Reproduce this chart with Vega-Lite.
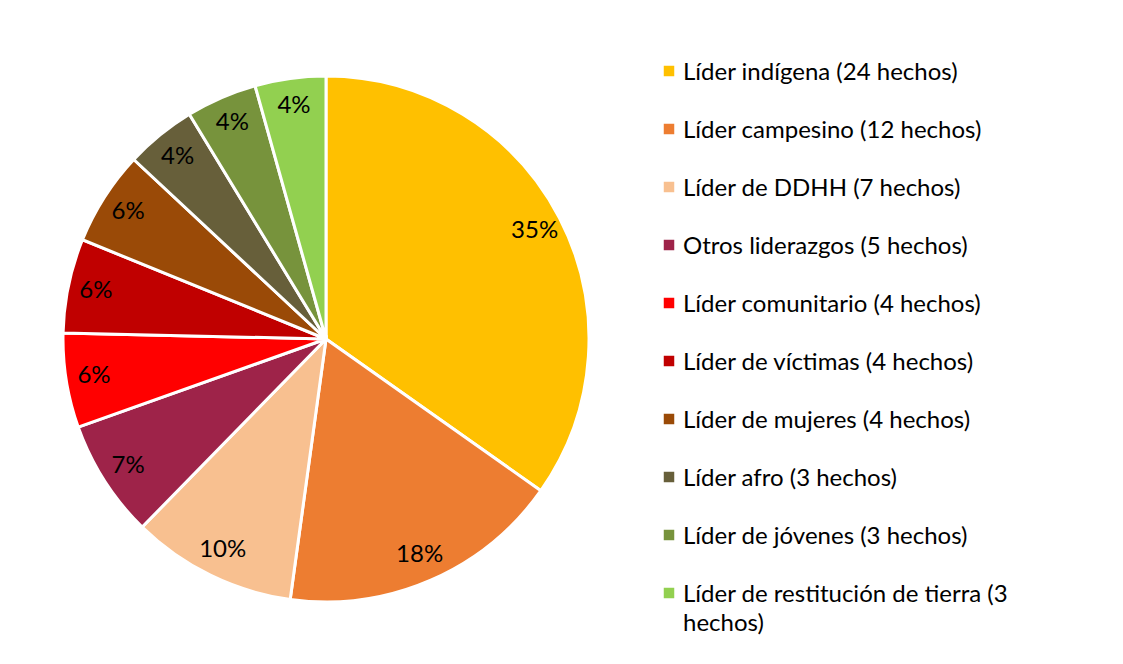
{
  "$schema": "https://vega.github.io/schema/vega-lite/v6.json",
  "width": 634,
  "height": 656,
  "autosize": "none",
  "padding": {"left": 9, "top": 11, "right": 480, "bottom": 0},
  "background": "white",
  "config": {
    "view": {"stroke": null},
    "font": "Lato",
    "style": {"guide-label": {"dy": 9, "lineHeight": 29}}
  },
  "data": {
    "values": [
      {"orden": 1, "categoria": "Líder indígena (24 hechos)", "hechos": 24, "pct": "35%"},
      {"orden": 2, "categoria": "Líder campesino (12 hechos)", "hechos": 12, "pct": "18%"},
      {"orden": 3, "categoria": "Líder de DDHH (7 hechos)", "hechos": 7, "pct": "10%"},
      {"orden": 4, "categoria": "Otros liderazgos (5 hechos)", "hechos": 5, "pct": "7%"},
      {"orden": 5, "categoria": "Líder comunitario (4 hechos)", "hechos": 4, "pct": "6%"},
      {"orden": 6, "categoria": "Líder de víctimas (4 hechos)", "hechos": 4, "pct": "6%"},
      {"orden": 7, "categoria": "Líder de mujeres (4 hechos)", "hechos": 4, "pct": "6%"},
      {"orden": 8, "categoria": "Líder afro (3 hechos)", "hechos": 3, "pct": "4%"},
      {"orden": 9, "categoria": "Líder de jóvenes (3 hechos)", "hechos": 3, "pct": "4%"},
      {"orden": 10, "categoria": "Líder de restitución de tierra (3 hechos)", "hechos": 3, "pct": "4%"}
    ]
  },
  "encoding": {
    "theta": {"field": "hechos", "type": "quantitative", "stack": true},
    "order": {"field": "orden", "type": "quantitative"}
  },
  "layer": [
    {
      "mark": {"type": "arc", "radius": 263, "stroke": "white", "strokeWidth": 3},
      "encoding": {
        "color": {
          "field": "categoria",
          "type": "nominal",
          "scale": {
            "domain": [
              "Líder indígena (24 hechos)",
              "Líder campesino (12 hechos)",
              "Líder de DDHH (7 hechos)",
              "Otros liderazgos (5 hechos)",
              "Líder comunitario (4 hechos)",
              "Líder de víctimas (4 hechos)",
              "Líder de mujeres (4 hechos)",
              "Líder afro (3 hechos)",
              "Líder de jóvenes (3 hechos)",
              "Líder de restitución de tierra (3 hechos)"
            ],
            "range": ["#FFC000", "#ED7D31", "#F8C090", "#9E2349", "#FF0000", "#C00000", "#9A4A07", "#675F3A", "#77933C", "#92D050"]
          },
          "legend": {
            "orient": "none",
            "legendX": 648,
            "legendY": 48,
            "title": null,
            "padding": 0,
            "symbolType": "square",
            "symbolSize": 110,
            "symbolStrokeWidth": 0,
            "labelFont": "Lato",
            "labelFontSize": 24,
            "labelColor": "black",
            "labelOffset": 2,
            "labelLimit": 600,
            "rowPadding": 32,
            "labelBaseline": "alphabetic",
            "labelExpr": "datum.label == 'Líder de restitución de tierra (3 hechos)' ? ['Líder de restitución de tierra (3', 'hechos)'] : datum.label"
          }
        }
      }
    },
    {
      "mark": {"type": "text", "radius": 235, "fontSize": 24, "font": "Lato", "color": "black"},
      "encoding": {"text": {"field": "pct", "type": "nominal"}}
    }
  ]
}
